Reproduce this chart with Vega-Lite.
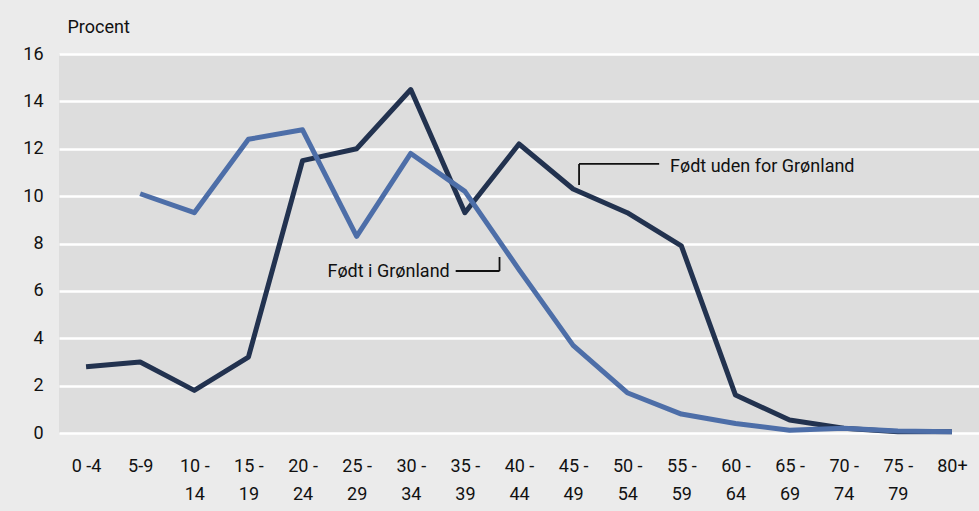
{
  "$schema": "https://vega.github.io/schema/vega-lite/v6.json",
  "autosize": "none",
  "width": 920,
  "height": 379,
  "padding": {"left": 59, "top": 54, "right": 0, "bottom": 78},
  "background": "#ebebeb",
  "config": {
    "font": "Roboto",
    "view": {"fill": "#dddddd", "stroke": null},
    "axis": {"labelFont": "Roboto", "titleFont": "Roboto", "labelColor": "#111111", "titleColor": "#111111"}
  },
  "datasets": {
    "series": [
      {"age": "0 -4", "group": "Født uden for Grønland", "value": 2.8},
      {"age": "5-9", "group": "Født uden for Grønland", "value": 3.0},
      {"age": "10 - 14", "group": "Født uden for Grønland", "value": 1.8},
      {"age": "15 - 19", "group": "Født uden for Grønland", "value": 3.2},
      {"age": "20 - 24", "group": "Født uden for Grønland", "value": 11.5},
      {"age": "25 - 29", "group": "Født uden for Grønland", "value": 12.0},
      {"age": "30 - 34", "group": "Født uden for Grønland", "value": 14.5},
      {"age": "35 - 39", "group": "Født uden for Grønland", "value": 9.3},
      {"age": "40 - 44", "group": "Født uden for Grønland", "value": 12.2},
      {"age": "45 - 49", "group": "Født uden for Grønland", "value": 10.3},
      {"age": "50 - 54", "group": "Født uden for Grønland", "value": 9.3},
      {"age": "55 - 59", "group": "Født uden for Grønland", "value": 7.9},
      {"age": "60 - 64", "group": "Født uden for Grønland", "value": 1.6},
      {"age": "65 - 69", "group": "Født uden for Grønland", "value": 0.55},
      {"age": "70 - 74", "group": "Født uden for Grønland", "value": 0.2},
      {"age": "75 - 79", "group": "Født uden for Grønland", "value": 0.05},
      {"age": "80+", "group": "Født uden for Grønland", "value": 0.05},
      {"age": "5-9", "group": "Født i Grønland", "value": 10.1},
      {"age": "10 - 14", "group": "Født i Grønland", "value": 9.3},
      {"age": "15 - 19", "group": "Født i Grønland", "value": 12.4},
      {"age": "20 - 24", "group": "Født i Grønland", "value": 12.8},
      {"age": "25 - 29", "group": "Født i Grønland", "value": 8.3},
      {"age": "30 - 34", "group": "Født i Grønland", "value": 11.8},
      {"age": "35 - 39", "group": "Født i Grønland", "value": 10.2},
      {"age": "40 - 44", "group": "Født i Grønland", "value": 6.9},
      {"age": "45 - 49", "group": "Født i Grønland", "value": 3.7},
      {"age": "50 - 54", "group": "Født i Grønland", "value": 1.7},
      {"age": "55 - 59", "group": "Født i Grønland", "value": 0.8},
      {"age": "60 - 64", "group": "Født i Grønland", "value": 0.4},
      {"age": "65 - 69", "group": "Født i Grønland", "value": 0.12},
      {"age": "70 - 74", "group": "Født i Grønland", "value": 0.2},
      {"age": "75 - 79", "group": "Født i Grønland", "value": 0.08},
      {"age": "80+", "group": "Født i Grønland", "value": 0.05}
    ],
    "leaders": [
      {"x": 6.83, "y": 6.84, "x2": 7.64, "y2": 6.84},
      {"x": 7.64, "y": 6.84, "x2": 7.64, "y2": 7.43},
      {"x": 9.11, "y": 11.36, "x2": 10.59, "y2": 11.36},
      {"x": 9.11, "y": 11.36, "x2": 9.11, "y2": 10.47}
    ],
    "labelsRight": [{"x": 6.72, "y": 6.8, "label": "Født i Grønland"}],
    "labelsLeft": [{"x": 10.79, "y": 11.25, "label": "Født uden for Grønland"}]
  },
  "resolve": {"scale": {"x": "independent"}, "axis": {"x": "independent"}},
  "layer": [
    {
      "data": {"name": "series"},
      "mark": {"type": "line", "strokeWidth": 5, "strokeJoin": "round"},
      "encoding": {
        "x": {
          "field": "age", "type": "nominal", "sort": null,
          "scale": {"type": "point", "padding": 0.5,
            "domain": ["0 -4","5-9","10 - 14","15 - 19","20 - 24","25 - 29","30 - 34","35 - 39","40 - 44","45 - 49","50 - 54","55 - 59","60 - 64","65 - 69","70 - 74","75 - 79","80+"]},
          "axis": {
            "title": null, "domain": false, "ticks": false, "labelAngle": 0,
            "labelFontSize": 18, "labelPadding": 33, "labelLineHeight": 28, "labelBaseline": "middle",
            "labelExpr": "indexof(datum.label, ' - ') > 0 ? [slice(datum.label, 0, indexof(datum.label, ' - ') + 2), slice(datum.label, indexof(datum.label, ' - ') + 3)] : datum.label"
          }
        },
        "y": {
          "field": "value", "type": "quantitative",
          "scale": {"domain": [0, 16], "nice": false},
          "axis": {
            "values": [0, 2, 4, 6, 8, 10, 12, 14, 16],
            "title": "Procent", "titleAngle": 0, "titleAlign": "left", "titleBaseline": "middle",
            "titleX": 8, "titleY": -27, "titleFontSize": 18, "titleFontWeight": "normal",
            "labelFontSize": 18, "labelPadding": 16, "domain": false, "ticks": false,
            "grid": true, "gridColor": "#ffffff", "gridWidth": 2.5, "gridOpacity": 1
          }
        },
        "color": {
          "field": "group", "type": "nominal",
          "scale": {"domain": ["Født uden for Grønland", "Født i Grønland"], "range": ["#22324f", "#4d6ea8"]},
          "legend": null
        }
      }
    },
    {
      "data": {"name": "leaders"},
      "mark": {"type": "rule", "color": "#111111", "strokeWidth": 1.8},
      "encoding": {
        "x": {"field": "x", "type": "quantitative", "scale": {"domain": [-0.5, 16.5], "nice": false, "zero": false}, "axis": null},
        "x2": {"field": "x2"},
        "y": {"field": "y", "type": "quantitative"},
        "y2": {"field": "y2"}
      }
    },
    {
      "data": {"name": "labelsRight"},
      "mark": {"type": "text", "align": "right", "baseline": "middle", "fontSize": 18, "color": "#111111"},
      "encoding": {
        "x": {"field": "x", "type": "quantitative", "scale": {"domain": [-0.5, 16.5], "nice": false, "zero": false}, "axis": null},
        "y": {"field": "y", "type": "quantitative"},
        "text": {"field": "label"}
      }
    },
    {
      "data": {"name": "labelsLeft"},
      "mark": {"type": "text", "align": "left", "baseline": "middle", "fontSize": 18, "color": "#111111"},
      "encoding": {
        "x": {"field": "x", "type": "quantitative", "scale": {"domain": [-0.5, 16.5], "nice": false, "zero": false}, "axis": null},
        "y": {"field": "y", "type": "quantitative"},
        "text": {"field": "label"}
      }
    }
  ]
}
